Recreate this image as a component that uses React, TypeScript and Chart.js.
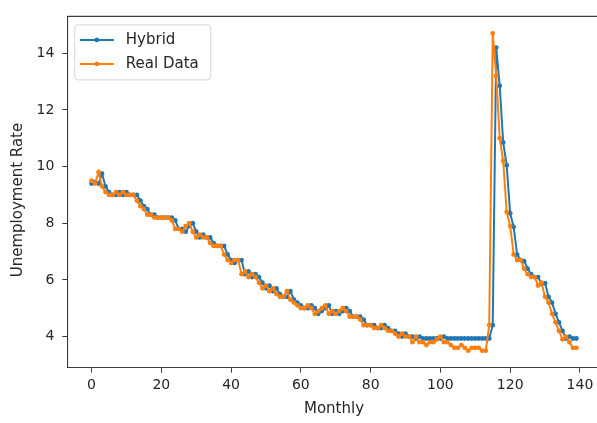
import { useEffect, useRef } from "react";
import { Chart, registerables } from "chart.js";

Chart.register(...registerables);

// Real monthly unemployment rate (index 0 .. 139)
const realData: number[] = [
  9.5, 9.4, 9.8, 9.3,
  9.1, 9.0, 9.0, 9.1, 9.0, 9.1, 9.0, 9.0, 9.0, 8.8, 8.6, 8.5,
  8.3, 8.3, 8.2, 8.2, 8.2, 8.2, 8.2, 8.1, 7.8, 7.8, 7.7, 7.9,
  8.0, 7.7, 7.5, 7.6, 7.5, 7.5, 7.3, 7.2, 7.2, 7.2, 6.9, 6.7,
  6.6, 6.7, 6.7, 6.2, 6.3, 6.1, 6.2, 6.1, 5.9, 5.7, 5.8, 5.6,
  5.7, 5.5, 5.4, 5.4, 5.6, 5.3, 5.2, 5.1, 5.0, 5.0, 5.1, 5.0,
  4.8, 4.9, 5.0, 5.1, 4.8, 4.9, 4.8, 4.9, 5.0, 4.9, 4.7, 4.7,
  4.7, 4.6, 4.4, 4.4, 4.4, 4.3, 4.3, 4.4, 4.3, 4.2, 4.2, 4.1,
  4.0, 4.1, 4.0, 4.0, 3.8, 4.0, 3.8, 3.8, 3.7, 3.8, 3.8, 3.9,
  4.0, 3.8, 3.8, 3.7, 3.6, 3.6, 3.7, 3.6, 3.5, 3.6, 3.6, 3.6,
  3.5, 3.5, 4.4, 14.7, 13.2, 11.0, 10.2, 8.4, 7.9, 6.9, 6.7, 6.7,
  6.4, 6.2, 6.1, 6.1, 5.8, 5.9, 5.4, 5.2, 4.8, 4.5, 4.2, 3.9,
  4.0, 3.8, 3.6, 3.6,
];

// Hybrid model output (index 0 .. 139)
const hybridData: number[] = [
  9.4, 9.45, 9.4, 9.75,
  9.3, 9.1, 9.0, 9.0, 9.1, 9.0, 9.1, 9.0, 9.0, 9.0, 8.8, 8.6,
  8.5, 8.3, 8.3, 8.2, 8.2, 8.2, 8.2, 8.2, 8.1, 7.8, 7.8, 7.7,
  7.9, 8.0, 7.7, 7.5, 7.6, 7.5, 7.5, 7.3, 7.2, 7.2, 7.2, 6.9,
  6.7, 6.6, 6.7, 6.7, 6.2, 6.3, 6.1, 6.2, 6.1, 5.9, 5.7, 5.8,
  5.6, 5.7, 5.5, 5.4, 5.4, 5.6, 5.3, 5.2, 5.1, 5.0, 5.0, 5.1,
  5.0, 4.8, 4.9, 5.0, 5.1, 4.8, 4.9, 4.8, 4.9, 5.0, 4.9, 4.7,
  4.7, 4.7, 4.6, 4.4, 4.4, 4.4, 4.3, 4.3, 4.4, 4.3, 4.2, 4.2,
  4.1, 4.0, 4.1, 4.0, 4.0, 3.93, 4.0, 3.93, 3.93, 3.93, 3.93, 3.93,
  3.93, 4.0, 3.93, 3.93, 3.93, 3.93, 3.93, 3.93, 3.93, 3.93, 3.93, 3.93,
  3.93, 3.93, 3.93, 4.4, 14.2, 12.85, 10.85, 10.05, 8.35, 7.87, 6.89, 6.7,
  6.66, 6.4, 6.2, 6.1, 6.1, 5.85, 5.88, 5.4, 5.2, 4.8, 4.5, 4.2,
  3.93, 4.0, 3.93, 3.93,
];

const months: number[] = realData.map((_, i) => i);

const xTickValues: number[] = [0, 20, 40, 60, 80, 100, 120, 140];
const yTickValues: number[] = [4, 6, 8, 10, 12, 14];

const seriesLabels = ["Hybrid", "Real Data"];
const seriesColors = ["#1f77b4", "#ff7f0e"];
const xTitle = "Monthly";
const yTitle = "Unemployment Rate";

const FONT = '"DejaVu Sans", "Liberation Sans", sans-serif';
const SPINE = "#3a3a3a";
const TEXT = "#262626";

const framePlugin = {
  id: "mplFrame",
  afterDraw(chart: any) {
    const { ctx, chartArea } = chart;
    ctx.save();
    ctx.strokeStyle = SPINE;
    ctx.lineWidth = 1.1;
    ctx.beginPath();
    ctx.moveTo(chartArea.left, chartArea.top);
    ctx.lineTo(chartArea.right, chartArea.top);
    ctx.lineTo(chartArea.right, chartArea.bottom);
    ctx.stroke();
    // y axis title
    ctx.translate(18.5, 200);
    ctx.rotate(-Math.PI / 2);
    ctx.fillStyle = TEXT;
    ctx.font = `15px ${FONT}`;
    ctx.textAlign = "center";
    ctx.textBaseline = "middle";
    ctx.fillText(yTitle, 0, 0);
    ctx.restore();
  },
};

const legendPlugin = {
  id: "mplLegend",
  afterDraw(chart: any) {
    const { ctx, chartArea } = chart;
    const x0 = chartArea.left + 7.5;
    const y0 = chartArea.top + 8.5;
    const w = 136;
    const h = 55;
    ctx.save();
    ctx.beginPath();
    (ctx as any).roundRect(x0, y0, w, h, 3);
    ctx.fillStyle = "rgba(255,255,255,0.85)";
    ctx.fill();
    ctx.strokeStyle = "#d6d6d6";
    ctx.lineWidth = 1;
    ctx.stroke();
    chart.data.datasets.forEach((ds: any, i: number) => {
      const y = y0 + 15 + i * 24;
      ctx.strokeStyle = ds.borderColor;
      ctx.lineWidth = 2;
      ctx.beginPath();
      ctx.moveTo(x0 + 5, y);
      ctx.lineTo(x0 + 39, y);
      ctx.stroke();
      ctx.fillStyle = ds.borderColor;
      ctx.beginPath();
      ctx.arc(x0 + 22, y, 2.4, 0, Math.PI * 2);
      ctx.fill();
      ctx.fillStyle = TEXT;
      ctx.font = `15px ${FONT}`;
      ctx.textBaseline = "middle";
      ctx.textAlign = "left";
      ctx.fillText(ds.label, x0 + 51, y + 0.5);
    });
    ctx.restore();
  },
};

export default function App() {
  const canvasRef = useRef<HTMLCanvasElement | null>(null);

  useEffect(() => {
    if (!canvasRef.current) return;
    const mk = (vals: number[]) => months.map((m, i) => ({ x: m, y: vals[i] }));
    const chart = new Chart(canvasRef.current, {
      type: "line",
      data: {
        datasets: [
          {
            label: seriesLabels[0],
            data: mk(hybridData),
            borderColor: seriesColors[0],
            backgroundColor: seriesColors[0],
            borderWidth: 2,
            pointRadius: 2.4,
            pointBorderWidth: 0,
            pointHoverRadius: 2.4,
            tension: 0,
            order: 1,
          },
          {
            label: seriesLabels[1],
            data: mk(realData),
            borderColor: seriesColors[1],
            backgroundColor: seriesColors[1],
            borderWidth: 2,
            pointRadius: 2.4,
            pointBorderWidth: 0,
            pointHoverRadius: 2.4,
            tension: 0,
            order: 0,
          },
        ],
      },
      options: {
        animation: false,
        responsive: true,
        maintainAspectRatio: false,
        layout: { padding: { top: 6.7, right: 11.3, left: 0, bottom: 0 } },
        plugins: {
          legend: { display: false },
          tooltip: { enabled: false },
        },
        scales: {
          x: {
            type: "linear",
            min: -6.95,
            max: 145.95,
            afterBuildTicks: (scale: any) => {
              scale.ticks = xTickValues.map((v) => ({ value: v }));
            },
            afterFit: (scale: any) => {
              scale.height = 55.3;
            },
            grid: {
              display: true,
              drawOnChartArea: false,
              drawTicks: true,
              tickLength: 5,
              color: SPINE,
              lineWidth: 1,
            },
            border: { display: true, color: SPINE, width: 1.1 },
            ticks: {
              color: TEXT,
              font: { family: FONT, size: 14 },
              padding: 4,
              maxRotation: 0,
              autoSkip: false,
            },
            title: {
              display: true,
              text: xTitle,
              color: TEXT,
              font: { family: FONT, size: 15 },
              padding: { top: 0, bottom: 5 },
            },
          },
          y: {
            type: "linear",
            min: 2.9,
            max: 15.3,
            afterBuildTicks: (scale: any) => {
              scale.ticks = yTickValues.map((v) => ({ value: v }));
            },
            afterFit: (scale: any) => {
              scale.width = 67.3;
            },
            grid: {
              display: true,
              drawOnChartArea: false,
              drawTicks: true,
              tickLength: 5,
              color: SPINE,
              lineWidth: 1,
            },
            border: { display: true, color: SPINE, width: 1.1 },
            ticks: {
              color: TEXT,
              font: { family: FONT, size: 14 },
              padding: 8,
              autoSkip: false,
            },
            title: { display: false },
          },
        },
      },
      plugins: [framePlugin, legendPlugin],
    });
    return () => chart.destroy();
  }, []);

  return (
    <div
      style={{
        position: "absolute",
        left: 0,
        top: 0,
        width: 597,
        height: 423,
        overflow: "hidden",
        background: "#fff",
      }}
    >
      <div style={{ position: "relative", width: 612, height: 423 }}>
        <canvas ref={canvasRef} />
      </div>
    </div>
  );
}
